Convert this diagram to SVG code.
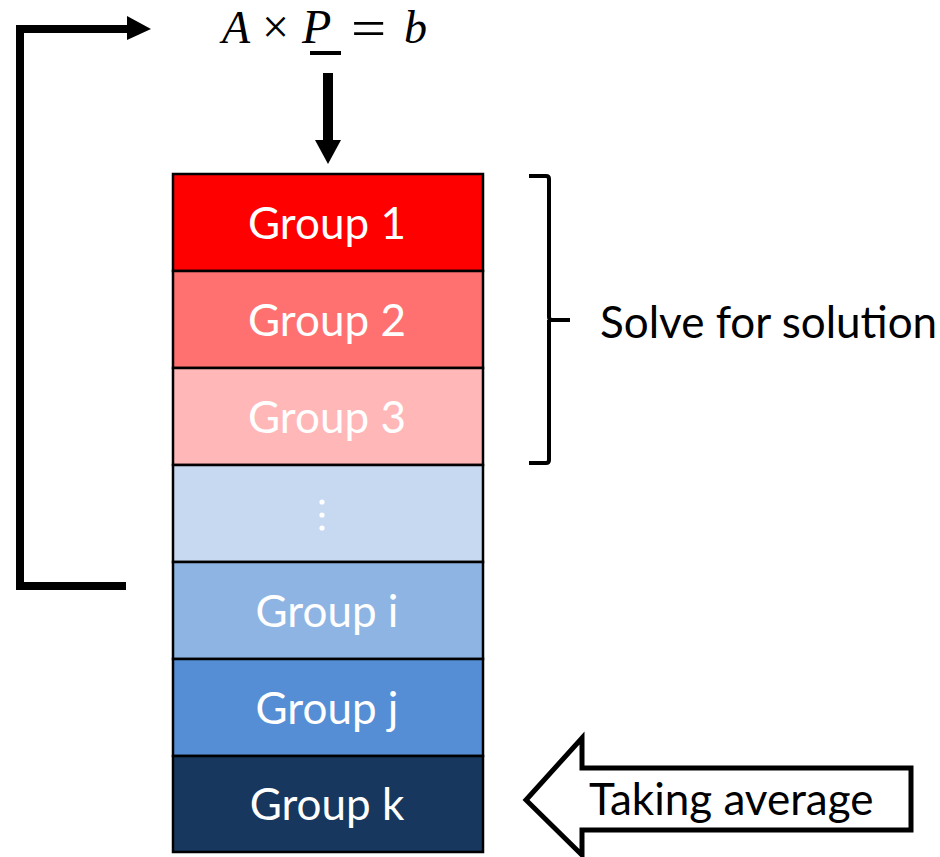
<svg xmlns="http://www.w3.org/2000/svg" width="940" height="857" viewBox="0 0 940 857">
<style>
.box{stroke:#000;stroke-width:2.5}
.lbl{font-family:Lato,"Open Sans","Liberation Sans",sans-serif;font-size:44px;fill:#fff;text-anchor:middle}
.side{font-family:Lato,"Open Sans","Liberation Sans",sans-serif;font-size:44px;fill:#000}
.eq{font-family:"Liberation Serif","DejaVu Serif",serif;fill:#000}
.conn{fill:none;stroke:#000;stroke-width:8}
</style>
<rect width="940" height="857" fill="#fff"/>
<g id="equation">
<text class="eq" y="43" style="font-size:46px"><tspan x="222" font-style="italic">A</tspan><tspan x="262" style="font-size:48px">×</tspan><tspan x="302" font-style="italic" style="font-size:48px">P</tspan><tspan x="404" font-style="italic">b</tspan></text>
<text class="eq" transform="translate(351 46) scale(1.3 1.1)" x="0" y="0" style="font-size:48px">=</text>
<rect x="310" y="51" width="31" height="4" fill="#000"/>
</g>
<g id="group1"><rect class="box" x="173" y="174" width="310" height="97" fill="#FF0000"/><text class="lbl" x="327" y="239">Group 1</text></g>
<g id="group2"><rect class="box" x="173" y="271" width="310" height="97" fill="#FF7171"/><text class="lbl" x="327" y="336">Group 2</text></g>
<g id="group3"><rect class="box" x="173" y="368" width="310" height="97" fill="#FFB7B7"/><text class="lbl" x="327" y="433">Group 3</text></g>
<g id="dots"><rect class="box" x="173" y="465" width="310" height="97" fill="#C6D9F0"/><circle cx="322" cy="502" r="2.6" fill="#fff"/><circle cx="322" cy="515" r="2.6" fill="#fff"/><circle cx="322" cy="528" r="2.6" fill="#fff"/></g>
<g id="groupi"><rect class="box" x="173" y="562" width="310" height="97" fill="#8EB4E3"/><text class="lbl" x="327" y="627">Group i</text></g>
<g id="groupj"><rect class="box" x="173" y="659" width="310" height="97" fill="#558ED5"/><text class="lbl" x="327" y="724">Group j</text></g>
<g id="groupk"><rect class="box" x="173" y="756" width="310" height="96" fill="#17375E"/><text class="lbl" x="327" y="820">Group k</text></g>
<g id="solve">
<path d="M529 176 H546 Q549 176 549 179 V317 Q549 320 552 320 H570 M549 320 V460 Q549 463 546 463 H529" fill="none" stroke="#000" stroke-width="4"/>
<text class="side" x="600" y="338">Solve for solution</text>
</g>
<g id="average">
<path d="M526 800 L582 738 V768 H911 V830 H582 V855 Z" fill="#fff" stroke="#000" stroke-width="5" stroke-linejoin="miter"/>
<text class="side" x="589" y="815">Taking average</text>
</g>
<g id="connectors">
<path class="conn" d="M126 586 H20 V29 H130"/>
<polygon points="127,16 151,29 127,40" fill="#000"/>
<rect x="323" y="73" width="10" height="68" fill="#000"/>
<polygon points="315,140 341,140 328,164" fill="#000"/>
</g>
</svg>
